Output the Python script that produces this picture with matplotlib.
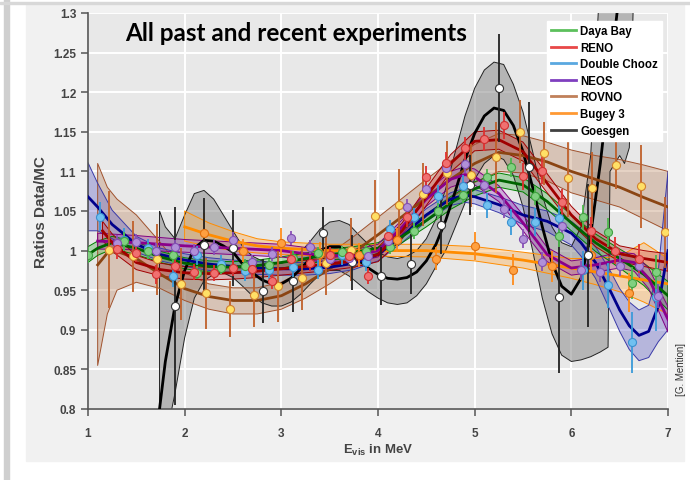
import matplotlib
matplotlib.use('Agg')
import matplotlib.pyplot as plt
from matplotlib.lines import Line2D
from matplotlib.patches import Rectangle
import numpy as np

# ---- Daya Bay ----
db_e = [1.0, 1.375, 1.625, 1.875, 2.125, 2.375, 2.625, 2.875, 3.125, 3.375, 3.625, 3.875,
        4.125, 4.375, 4.625, 4.875, 5.125, 5.375, 5.625, 5.875, 6.125, 6.375, 6.625, 6.875]
db_r = [0.994, 1.012, 1.0, 0.994, 0.972, 0.978, 0.981, 0.982, 0.991, 0.997, 0.998, 0.999,
        1.004, 1.025, 1.05, 1.07, 1.093, 1.105, 1.069, 1.018, 1.042, 1.023, 0.959, 0.973]
db_err = [0.01, 0.012, 0.01, 0.01, 0.008, 0.008, 0.008, 0.008, 0.008, 0.008, 0.008, 0.008,
          0.008, 0.01, 0.01, 0.01, 0.01, 0.012, 0.012, 0.014, 0.016, 0.018, 0.02, 0.022]
db_fit_e = [1.0, 1.1, 1.25, 1.5, 1.75, 2.0, 2.25, 2.5, 2.75, 3.0, 3.25, 3.5, 3.75, 4.0, 4.25,
            4.5, 4.75, 5.0, 5.25, 5.5, 5.75, 6.0, 6.25, 6.5, 6.75, 7.0]
db_fit = [0.995, 1.003, 1.01, 1.003, 0.992, 0.984, 0.98, 0.979, 0.981, 0.985, 0.99, 0.995,
          0.998, 1.003, 1.018, 1.038, 1.06, 1.078, 1.089, 1.083, 1.062, 1.035, 1.01, 0.99,
          0.97, 0.943]
db_hw = [0.01, 0.009, 0.008, 0.008, 0.007, 0.007, 0.007, 0.007, 0.007, 0.007, 0.007, 0.007,
         0.007, 0.007, 0.008, 0.008, 0.008, 0.009, 0.009, 0.009, 0.01, 0.01, 0.011, 0.012,
         0.014, 0.018]

# ---- RENO ----
reno_e = [1.3, 1.5, 1.7, 1.9, 2.1, 2.3, 2.5, 2.7, 2.9, 3.1, 3.3, 3.5, 3.7, 3.9, 4.1, 4.3,
          4.5, 4.7, 4.9, 5.1, 5.3, 5.5, 5.7, 5.9, 6.2, 6.45, 6.7]
reno_r = [1.002, 0.997, 0.970, 0.98, 0.973, 0.972, 0.978, 0.977, 0.962, 0.989, 0.984, 0.994,
          0.993, 0.968, 1.018, 1.042, 1.093, 1.111, 1.129, 1.141, 1.158, 1.094, 1.101, 1.061,
          1.025, 1.0, 0.99]
reno_err = [0.012, 0.012, 0.012, 0.012, 0.01, 0.01, 0.01, 0.01, 0.01, 0.01, 0.01, 0.01,
            0.01, 0.01, 0.012, 0.012, 0.014, 0.014, 0.015, 0.015, 0.017, 0.017, 0.017, 0.017,
            0.017, 0.017, 0.018]
reno_fit_e = [1.15, 1.25, 1.5, 1.75, 2.0, 2.25, 2.5, 2.75, 3.0, 3.25, 3.5, 3.75, 4.0, 4.25,
              4.5, 4.75, 5.0, 5.25, 5.5, 5.75, 6.0, 6.25, 6.5, 6.75, 7.0]
reno_fit = [1.025, 1.01, 0.985, 0.976, 0.972, 0.971, 0.972, 0.974, 0.977, 0.98, 0.983, 0.987,
            0.995, 1.025, 1.068, 1.11, 1.138, 1.14, 1.125, 1.085, 1.045, 1.015, 0.996, 0.99,
            0.985]
reno_hw = [0.012, 0.011, 0.009, 0.008, 0.008, 0.008, 0.008, 0.008, 0.008, 0.008, 0.008, 0.008,
           0.009, 0.01, 0.011, 0.011, 0.012, 0.012, 0.012, 0.012, 0.011, 0.01, 0.01, 0.01,
           0.011]

# ---- Double Chooz ----
dc_e = [1.125, 1.375, 1.625, 1.875, 2.125, 2.375, 2.625, 2.875, 3.125, 3.375, 3.625, 3.875,
        4.125, 4.375, 4.625, 4.875, 5.125, 5.375, 5.625, 5.875, 6.125, 6.375, 6.625, 6.875]
dc_r = [1.043, 1.014, 1.003, 0.968, 0.994, 0.983, 0.974, 0.976, 0.979, 0.976, 0.994, 0.986,
        1.027, 1.042, 1.069, 1.082, 1.057, 1.036, 1.036, 1.041, 0.975, 0.956, 0.884, 0.941]
dc_err = [0.018, 0.014, 0.012, 0.014, 0.012, 0.012, 0.012, 0.012, 0.012, 0.012, 0.012, 0.012,
          0.012, 0.012, 0.014, 0.014, 0.016, 0.016, 0.018, 0.02, 0.025, 0.028, 0.039, 0.042]
dc_fit_e = [1.0, 1.1, 1.25, 1.5, 1.75, 2.0, 2.25, 2.5, 2.75, 3.0, 3.25, 3.5, 3.75, 4.0, 4.25,
            4.5, 4.75, 4.9, 5.0, 5.25, 5.5, 5.75, 6.0, 6.1, 6.25, 6.4, 6.5, 6.6, 6.7, 6.8,
            6.9, 7.0]
dc_fit = [1.068, 1.055, 1.033, 1.008, 0.995, 0.988, 0.983, 0.98, 0.978, 0.977, 0.977, 0.979,
          0.984, 0.995, 1.018, 1.045, 1.065, 1.07, 1.068, 1.058, 1.045, 1.037, 1.022, 1.01,
          0.985, 0.95, 0.925, 0.905, 0.893, 0.898, 0.93, 1.0]
dc_hw = [0.043, 0.03, 0.018, 0.01, 0.008, 0.008, 0.008, 0.008, 0.008, 0.008, 0.008, 0.008,
         0.008, 0.008, 0.008, 0.008, 0.008, 0.009, 0.009, 0.01, 0.012, 0.013, 0.015, 0.017,
         0.02, 0.025, 0.027, 0.03, 0.032, 0.033, 0.045, 0.1]

# ---- NEOS ----
neos_e = [1.3, 1.5, 1.7, 1.9, 2.1, 2.3, 2.5, 2.7, 2.9, 3.1, 3.3, 3.5, 3.7, 3.9, 4.1, 4.3,
          4.5, 4.7, 4.9, 5.1, 5.3, 5.5, 5.7, 5.9, 6.1, 6.3, 6.5, 6.7, 6.9]
neos_r = [1.010, 1.011, 1.0, 1.004, 0.999, 1.004, 1.014, 0.985, 0.996, 1.016, 1.005, 0.989,
          0.991, 0.993, 1.012, 1.055, 1.078, 1.104, 1.109, 1.083, 1.053, 1.015, 0.986, 1.031,
          0.975, 0.973, 0.981, 0.981, 0.943]
neos_err = [0.01, 0.01, 0.01, 0.01, 0.009, 0.009, 0.009, 0.009, 0.009, 0.009, 0.009, 0.009,
            0.009, 0.009, 0.01, 0.01, 0.01, 0.011, 0.011, 0.011, 0.012, 0.012, 0.012, 0.012,
            0.012, 0.013, 0.013, 0.014, 0.015]
neos_fit_e = [1.1, 1.5, 2.0, 2.5, 3.0, 3.25, 3.5, 3.75, 4.0, 4.25, 4.5, 4.75, 4.9, 5.0, 5.25,
              5.5, 5.75, 6.0, 6.25, 6.5, 6.65, 6.8, 7.0]
neos_fit = [1.012, 1.01, 1.006, 1.003, 1.0, 0.996, 0.994, 0.993, 1.0, 1.03, 1.065, 1.09,
            1.096, 1.093, 1.072, 1.035, 0.995, 0.978, 0.982, 0.988, 0.985, 0.965, 0.913]
neos_hw = [0.01, 0.009, 0.008, 0.008, 0.008, 0.008, 0.008, 0.008, 0.008, 0.009, 0.009, 0.01,
           0.01, 0.01, 0.01, 0.01, 0.009, 0.009, 0.009, 0.01, 0.011, 0.013, 0.016]

# ---- ROVNO ----
rov_e = [1.217, 1.467, 1.717, 1.967, 2.217, 2.467, 2.717, 2.967, 3.217, 3.467, 3.717, 3.967,
         4.217, 4.467, 4.717, 4.967, 5.217, 5.467, 5.717, 5.967, 6.217, 6.467, 6.717, 6.967]
rov_r = [1.001, 0.993, 0.989, 0.958, 0.946, 0.926, 0.944, 0.955, 0.965, 0.984, 1.001, 1.044,
         1.058, 1.071, 1.098, 1.095, 1.118, 1.15, 1.123, 1.092, 1.079, 1.108, 1.081, 1.023]
rov_err = [0.074, 0.045, 0.045, 0.045, 0.045, 0.035, 0.04, 0.045, 0.04, 0.04, 0.04, 0.045,
           0.045, 0.04, 0.04, 0.04, 0.045, 0.04, 0.04, 0.05, 0.045, 0.03, 0.052, 0.045]
rov_fit_e = [1.1, 1.2, 1.3, 1.5, 1.75, 2.0, 2.25, 2.5, 2.75, 3.0, 3.25, 3.5, 3.75, 4.0, 4.25,
             4.5, 4.75, 5.0, 5.25, 5.5, 5.75, 6.0, 6.25, 6.5, 6.75, 7.0]
rov_fit = [0.982, 0.997, 0.999, 0.99, 0.97, 0.952, 0.942, 0.937, 0.937, 0.943, 0.958, 0.977,
           0.998, 1.02, 1.043, 1.067, 1.09, 1.11, 1.124, 1.12, 1.112, 1.1, 1.09, 1.08, 1.067,
           1.055]
rov_lo = [0.855, 0.92, 0.95, 0.96, 0.952, 0.937, 0.926, 0.92, 0.92, 0.926, 0.94, 0.958, 0.978,
          0.998, 1.02, 1.043, 1.066, 1.086, 1.1, 1.098, 1.088, 1.073, 1.064, 1.055, 1.04, 1.025]
rov_hi = [1.11, 1.08, 1.065, 1.045, 1.01, 0.972, 0.958, 0.953, 0.953, 0.96, 0.976, 0.996, 1.018,
          1.042, 1.066, 1.09, 1.113, 1.134, 1.148, 1.145, 1.137, 1.127, 1.12, 1.115, 1.108, 1.1]

# ---- Bugey 3 ----
bug_e = [2.2, 2.6, 3.0, 3.4, 3.8, 4.2, 4.6, 5.0, 5.4, 5.8, 6.2, 6.6]
bug_r = [1.022, 1.0, 1.01, 0.996, 0.994, 1.013, 0.99, 1.006, 0.976, 0.98, 0.995, 0.947]
bug_err = [0.025, 0.015, 0.018, 0.015, 0.015, 0.015, 0.015, 0.018, 0.02, 0.02, 0.02, 0.025]
bug_fit_e = [2.0, 2.25, 2.5, 2.75, 3.0, 3.5, 4.0, 4.5, 5.0, 5.5, 6.0, 6.25, 6.5, 6.75, 7.0]
bug_fit = [1.03, 1.02, 1.012, 1.006, 1.003, 1.0, 1.0, 1.0, 0.996, 0.988, 0.978, 0.973, 0.968,
           0.963, 0.958]
bug_lo = [1.012, 1.005, 1.0, 0.997, 0.995, 0.993, 0.993, 0.992, 0.987, 0.978, 0.965, 0.957,
          0.948, 0.935, 0.92]
bug_hi = [1.05, 1.035, 1.024, 1.015, 1.011, 1.008, 1.008, 1.008, 1.005, 0.998, 0.99, 0.99,
          0.993, 1.01, 0.99]

# ---- Goesgen ----
gg_e = [1.9, 2.2, 2.5, 2.81, 3.12, 3.43, 3.73, 4.03, 4.34, 4.65, 4.95, 5.25, 5.56, 5.87, 6.17]
gg_r = [0.93, 1.007, 1.003, 0.949, 0.961, 1.022, 0.985, 0.968, 0.983, 1.032, 1.083, 1.205,
        1.105, 0.941, 0.994]
gg_err = [0.125, 0.06, 0.048, 0.04, 0.038, 0.033, 0.035, 0.037, 0.038, 0.036, 0.038, 0.068,
          0.082, 0.095, 0.09]
gg_fit_e = [1.74, 1.8, 1.9, 2.0, 2.1, 2.2, 2.3, 2.4, 2.5, 2.6, 2.7, 2.8, 2.9, 3.0, 3.1, 3.2,
            3.3, 3.4, 3.5, 3.6, 3.7, 3.8, 3.9, 4.0, 4.1, 4.2, 4.3, 4.4, 4.5, 4.6, 4.7, 4.8,
            4.9, 5.0, 5.1, 5.2, 5.3, 5.4, 5.5, 5.6, 5.7, 5.8, 5.9, 6.0, 6.1, 6.2, 6.3, 6.4, 6.5]
gg_fit = [0.80, 0.86, 0.93, 0.975, 1.003, 1.013, 1.012, 1.006, 0.998, 0.983, 0.972, 0.963,
          0.958, 0.958, 0.965, 0.977, 0.99, 1.0, 1.005, 1.005, 0.998, 0.988, 0.978, 0.97, 0.965,
          0.964, 0.966, 0.973, 0.987, 1.008, 1.038, 1.075, 1.115, 1.148, 1.17, 1.18, 1.177,
          1.158, 1.125, 1.08, 1.03, 0.985, 0.955, 0.945, 0.965, 1.02, 1.11, 1.22, 1.33]
gg_band_e = gg_fit_e[:-2] + [6.38, 6.4, 6.5, 6.55, 6.6, 6.65]
gg_lo = [0.76, 0.76, 0.82, 0.89, 0.94, 0.962, 0.97, 0.972, 0.966, 0.955, 0.943, 0.934, 0.93,
         0.93, 0.935, 0.945, 0.958, 0.97, 0.975, 0.975, 0.968, 0.958, 0.948, 0.94, 0.934, 0.932,
         0.934, 0.943, 0.958, 0.98, 1.0, 1.03, 1.06, 1.09, 1.11, 1.12, 1.115, 1.095, 1.055, 1.0,
         0.94, 0.895, 0.868, 0.86, 0.862, 0.866, 0.872, 0.878, 1.1, 1.12, 1.11, 1.13, 1.35]
gg_hi = [1.05, 1.03, 1.015, 1.045, 1.072, 1.076, 1.065, 1.045, 1.025, 1.005, 0.993, 0.987,
         0.984, 0.984, 0.988, 0.998, 1.012, 1.027, 1.036, 1.038, 1.033, 1.02, 1.008, 0.998,
         0.992, 0.99, 0.993, 1.0, 1.015, 1.04, 1.078, 1.125, 1.17, 1.205, 1.228, 1.238, 1.235,
         1.21, 1.175, 1.125, 1.07, 1.03, 1.01, 1.005, 1.03, 1.12, 1.35, 1.35, 1.35, 1.35, 1.35,
         1.35, 1.35]

labels = ['Daya Bay', 'RENO', 'Double Chooz', 'NEOS', 'ROVNO', 'Bugey 3', 'Goesgen']
legend_colors = ['#5cc05c', '#e84848', '#5aa8e0', '#7f3fbf', '#c0805a', '#ff9933', '#404040']

fig = plt.figure(figsize=(6.9, 4.81), dpi=100)
fig.patch.set_facecolor('white')
# slide panel and its shadow, kept behind the axes
fig.patches.append(Rectangle((26 / 690, 19 / 481), 658 / 690, 456 / 481,
                             transform=fig.transFigure, color='#f1f1f1', zorder=-10))
fig.patches.append(Rectangle((4 / 690, 0), 5 / 690, 1, transform=fig.transFigure,
                             color='#cfcfcf', zorder=-10))
fig.patches.append(Rectangle((0, 476 / 481), 1, 2 / 481, transform=fig.transFigure,
                             color='#d8d8d8', zorder=-10))

ax = fig.add_axes([88 / 690, 1 - 410 / 481, 580 / 690, 396 / 481])
ax.set_facecolor('#e8e8e8')
ax.set_xlim(1, 7)
ax.set_ylim(0.8, 1.3)
ax.set_xticks([1, 2, 3, 4, 5, 6, 7])
ax.set_yticks(np.arange(0.8, 1.301, 0.05))
ax.set_yticklabels(['0.8', '0.85', '0.9', '0.95', '1', '1.05', '1.1', '1.15', '1.2', '1.25', '1.3'])
ax.grid(True, color='white', linewidth=1.4)
ax.set_axisbelow(True)
for s in ['top', 'right']:
    ax.spines[s].set_visible(False)
for s in ['left', 'bottom']:
    ax.spines[s].set_color('#555555')
    ax.spines[s].set_linewidth(1.2)
ax.tick_params(direction='out', length=5, width=1.1, color='#555555', labelcolor='#444444',
               labelsize=8.5)
ax.tick_params(axis='x', pad=8)
for lab in ax.get_xticklabels() + ax.get_yticklabels():
    lab.set_family('Liberation Sans')
    lab.set_fontweight('bold')


def band(e, lo, hi, fc, ec, alpha):
    ax.fill_between(e, lo, hi, facecolor=fc, alpha=alpha, edgecolor='none', zorder=2)
    ax.fill_between(e, lo, hi, facecolor='none', edgecolor=ec, linewidth=0.7, zorder=2.1)


def pts(e, r, err, fc, ec, bar):
    ax.errorbar(e, r, yerr=err, fmt='o', ms=5.8, mfc=fc, mec=ec, mew=0.8, ecolor=bar,
                elinewidth=1.3, capsize=0, zorder=5)


# Goesgen band and fit
band(gg_band_e, gg_lo, gg_hi, '#8c8c8c', '#222222', 0.55)
ax.plot(gg_fit_e, gg_fit, color='black', lw=2.0, zorder=3)

# ROVNO
band(rov_fit_e, rov_lo, rov_hi, '#b9805a', '#a0522d', 0.35)
ax.plot(rov_fit_e, rov_fit, color='#8b4513', lw=2.0, zorder=3)

# Bugey 3
band(bug_fit_e, bug_lo, bug_hi, '#ffb050', '#ff8c00', 0.4)
ax.plot(bug_fit_e, bug_fit, color='#ff8c00', lw=2.0, zorder=3)

# Double Chooz
dc_lo = np.array(dc_fit) - np.array(dc_hw)
dc_hi = np.array(dc_fit) + np.array(dc_hw)
band(dc_fit_e, dc_lo, dc_hi, '#5a5ac8', '#3a3aa8', 0.35)
ax.plot(dc_fit_e, dc_fit, color='#00008b', lw=2.0, zorder=3)

# Daya Bay
db_lo = np.array(db_fit) - np.array(db_hw)
db_hi = np.array(db_fit) + np.array(db_hw)
band(db_fit_e, db_lo, db_hi, '#40b040', '#008000', 0.35)
ax.plot(db_fit_e, db_fit, color='#006400', lw=2.0, zorder=3)

# NEOS
neos_lo = np.array(neos_fit) - np.array(neos_hw)
neos_hi = np.array(neos_fit) + np.array(neos_hw)
band(neos_fit_e, neos_lo, neos_hi, '#a040c0', '#800080', 0.35)
ax.plot(neos_fit_e, neos_fit, color='#8b008b', lw=2.0, zorder=3)

# RENO
reno_lo = np.array(reno_fit) - np.array(reno_hw)
reno_hi = np.array(reno_fit) + np.array(reno_hw)
band(reno_fit_e, reno_lo, reno_hi, '#d03030', '#a00000', 0.3)
ax.plot(reno_fit_e, reno_fit, color='#a00000', lw=2.0, zorder=3)

# data points
pts(rov_e, rov_r, rov_err, '#ffe066', '#d08030', '#c0602a')
pts(bug_e, bug_r, bug_err, '#ffa040', '#e07010', '#ff8c1a')
pts(gg_e, gg_r, gg_err, 'white', '#333333', '#222222')
pts(dc_e, dc_r, dc_err, '#70c0f0', '#3a90d0', '#3a9ad9')
pts(db_e, db_r, db_err, '#80d080', '#40a040', '#4cb84c')
pts(neos_e, neos_r, neos_err, '#b090d8', '#8050b0', '#8a50b8')
pts(reno_e, reno_r, reno_err, '#f07070', '#d03030', '#e03030')

handles = [Line2D([], [], color=c, lw=2) for c in legend_colors]
leg = ax.legend(handles, labels, loc='upper right', bbox_to_anchor=(0.99, 0.98),
                frameon=True, fancybox=False, framealpha=1, edgecolor='white',
                prop={'family': 'Liberation Sans', 'weight': 'bold', 'size': 8.3},
                handlelength=2.2, handletextpad=0.35, labelspacing=0.4, borderpad=0.35,
                borderaxespad=0)
leg.set_zorder(10)

ax.text(125 / 690 * 690 / 580 - 88 / 580, 0.95, 'All past and recent experiments',
        transform=ax.transAxes, fontsize=17.5, fontweight='bold', family='Lato',
        color='black', va='center', zorder=11)

ax.set_ylabel('Ratios Data/MC', family='Liberation Sans', fontweight='bold', fontsize=11,
              color='#444444', labelpad=4)
ax.set_xlabel(r'E$_{\mathregular{vis}}$ in MeV', family='Liberation Sans', fontweight='bold',
              fontsize=9.5, color='#444444', labelpad=2)
fig.text(681 / 690, 1 - 370 / 481, '[G. Mention]', rotation=90, ha='center', va='center',
         family='Liberation Sans', fontsize=7, color='#333333')

fig.savefig('out.png', dpi=100)
